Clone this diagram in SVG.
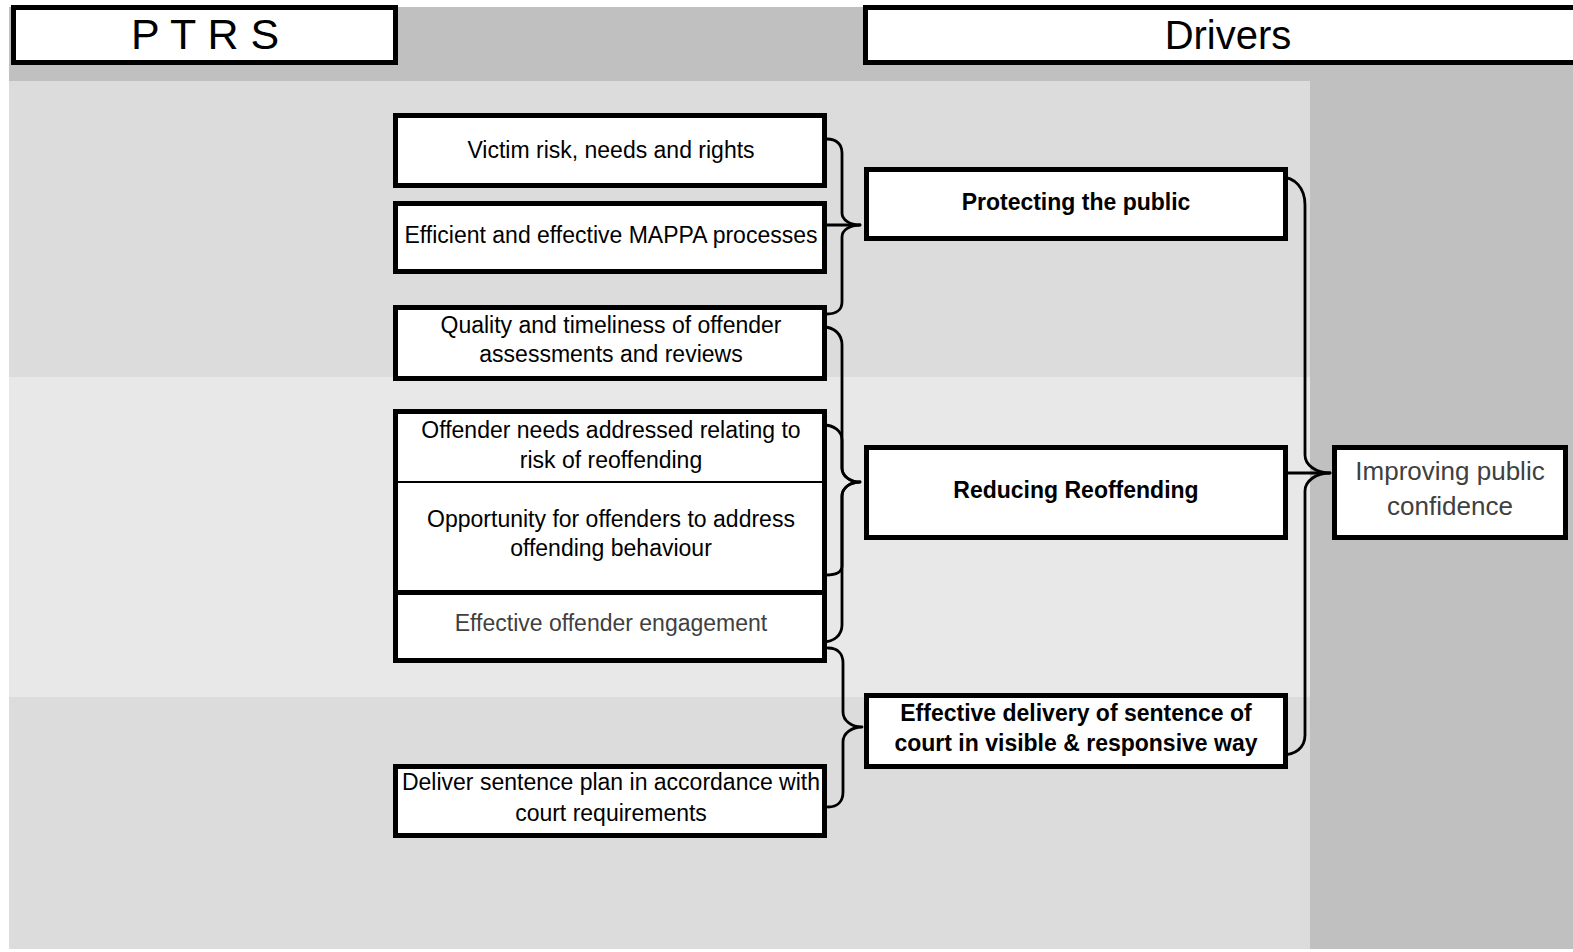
<svg xmlns="http://www.w3.org/2000/svg" width="1573" height="952" viewBox="0 0 1573 952">
<style>
.box{fill:#fff;stroke:#000;stroke-width:5}
.t{font-family:"Liberation Sans",Arial,sans-serif;font-size:23px;text-anchor:middle;fill:#000}
.b{font-weight:bold}
.gr{fill:#404040}
.c{fill:none;stroke:#000;stroke-width:2.8;stroke-linejoin:round;stroke-linecap:round}
</style>
<rect x="0" y="0" width="1573" height="952" fill="#fff"/>
<g id="background">
<rect x="9" y="7" width="1564" height="74" fill="#c0c0c0"/>
<rect x="9" y="81" width="1301" height="296" fill="#dcdcdc"/>
<rect x="9" y="377" width="1301" height="320" fill="#e8e8e8"/>
<rect x="9" y="697" width="1301" height="252" fill="#dcdcdc"/>
<rect x="1310" y="81" width="263" height="868" fill="#c0c0c0"/>
</g>
<g id="header-ptrs">
<rect class="box" x="13.5" y="7.5" width="382" height="55"/>
<text class="t" x="205" y="49" style="font-size:43px">P T R S</text>
</g>
<g id="header-drivers">
<rect class="box" x="865.5" y="7.5" width="720" height="55"/>
<text class="t" x="1228" y="49" style="font-size:40px">Drivers</text>
</g>
<g id="connectors">
<path class="c" d="M827,139 C836,139 842,144 842,153 L842,213 C842,220 850,225 860,225 C850,225 842,230 842,237 L842,302 C842,310 836,314 827,314"/>
<path class="c" d="M827,225 L860,225"/>
<path class="c" d="M823,327 C834,327 842,334 842,345 L842,468 C842,476 850,482 860,482 C850,482 842,488 842,496 L842,625 C842,635 834,642 823,642"/>
<path class="c" d="M823,425 C834,425 842,431 842,440 L842,468 C842,476 850,482 860,482 C850,482 842,488 842,496 L842,566 C842,572 836,575 826,575"/>
<path class="c" d="M828,648 C838,648 843,654 843,663 L843,712 C843,721 852,727 862,727 C852,727 843,733 843,742 L843,792 C843,801 838,807 828,807"/>
<path class="c" d="M1280,177 C1295,177 1305,188 1305,205 L1305,455 C1305,465 1316,473 1330,473 C1316,473 1305,481 1305,491 L1305,735 C1305,748 1295,755 1282,755"/>
<path class="c" d="M1282,473 L1330,473"/>
</g>
<g id="victim">
<rect class="box" x="395.5" y="115.5" width="429" height="70"/>
<text class="t" x="611" y="157.5">Victim risk, needs and rights</text>
</g>
<g id="mappa">
<rect class="box" x="395.5" y="203.5" width="429" height="68"/>
<text class="t" x="611" y="242.5">Efficient and effective MAPPA processes</text>
</g>
<g id="quality">
<rect class="box" x="395.5" y="307.5" width="429" height="71"/>
<text class="t" x="611" y="333">Quality and timeliness of offender</text>
<text class="t" x="611" y="362">assessments and reviews</text>
</g>
<g id="offender-needs">
<rect x="395.5" y="411.5" width="429" height="70.5" fill="#fff"/>
<text class="t" x="611" y="438">Offender needs addressed relating to</text>
<text class="t" x="611" y="468">risk of reoffending</text>
</g>
<g id="opportunity">
<rect x="395.5" y="482" width="429" height="110" fill="#fff"/>
<text class="t" x="611" y="527">Opportunity for offenders to address</text>
<text class="t" x="611" y="556">offending behaviour</text>
</g>
<g id="engagement">
<rect x="395.5" y="592" width="429" height="68.5" fill="#fff"/>
<text class="t gr" x="611" y="631">Effective offender engagement</text>
</g>
<g id="cluster-frame">
<rect x="395.5" y="411.5" width="429" height="249" fill="none" stroke="#000" stroke-width="5"/>
<line x1="398" y1="482" x2="822" y2="482" stroke="#000" stroke-width="2"/>
<line x1="398" y1="592.5" x2="822" y2="592.5" stroke="#000" stroke-width="5"/>
</g>
<g id="deliver">
<rect class="box" x="395.5" y="766.5" width="429" height="69"/>
<text class="t" x="611" y="790">Deliver sentence plan in accordance with</text>
<text class="t" x="611" y="821">court requirements</text>
</g>
<g id="protecting">
<rect class="box" x="866.5" y="169.5" width="419" height="69"/>
<text class="t b" x="1076" y="209.5">Protecting the public</text>
</g>
<g id="reducing">
<rect class="box" x="866.5" y="447.5" width="419" height="90"/>
<text class="t b" x="1076" y="497.5">Reducing Reoffending</text>
</g>
<g id="effective-delivery">
<rect class="box" x="866.5" y="695.5" width="419" height="71"/>
<text class="t b" x="1076" y="720.5">Effective delivery of sentence of</text>
<text class="t b" x="1076" y="750.5">court in visible &amp; responsive way</text>
</g>
<g id="improving">
<rect class="box" x="1334.5" y="447.5" width="231" height="90"/>
<text class="t gr" x="1450" y="480" style="font-size:26px">Improving public</text>
<text class="t gr" x="1450" y="515" style="font-size:26px">confidence</text>
</g>
</svg>
